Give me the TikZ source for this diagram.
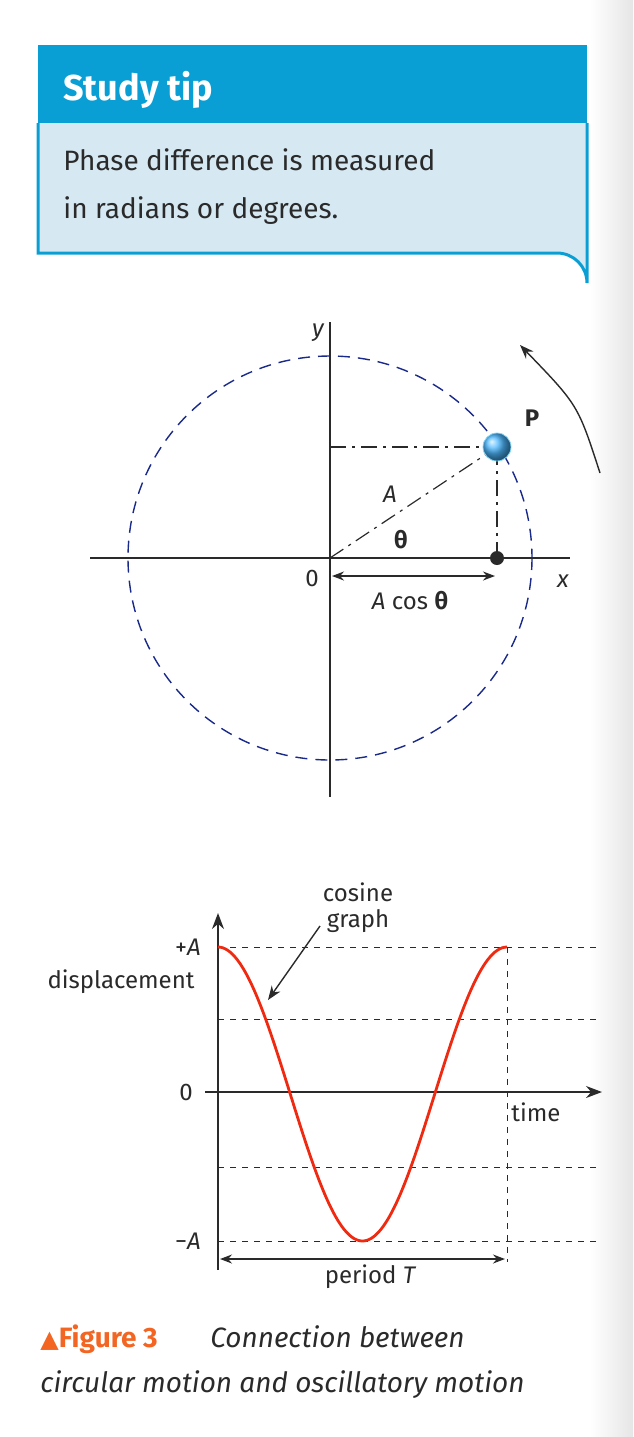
\documentclass[tikz,border=0pt]{standalone}
\usepackage{fontspec}
\setmainfont{Fira Sans}
\newfontfamily\dejavu{DejaVu Sans}
\usetikzlibrary{arrows.meta}
\definecolor{hdr}{HTML}{0A9FD4}
\definecolor{bodyc}{HTML}{D6E8F2}
\definecolor{circ}{HTML}{1A2A8A}
\definecolor{curv}{HTML}{F02A10}
\definecolor{orng}{HTML}{F26522}
\definecolor{txt}{HTML}{2A2A2A}
\tikzset{ax/.style={draw=txt,line width=0.8pt},
 dd/.style={draw=txt,line width=0.6pt,dash pattern=on 8pt off 3pt on 1.5pt off 3pt},
 hd/.style={draw=txt,line width=0.5pt,dash pattern=on 3pt off 3pt},
 lbl/.style={text=txt,font=\fontsize{12}{14}\selectfont,inner sep=0pt}}
\begin{document}
\begin{tikzpicture}[x=0.5pt,y=-0.5pt]
\useasboundingbox (0,0) rectangle (633,1437);
\shade[left color=white,right color=black!10] (590,0) rectangle (633,1437);
% study tip box
\fill[hdr] (38,45) rectangle (587,123);
\draw[hdr,fill=bodyc,line width=1.5pt] (38,123) -- (38,253) -- (557,253) arc[start angle=90,end angle=0,x radius=30,y radius=-30] -- (587,123);
\node[anchor=base west,text=white,font=\fontsize{18}{20}\selectfont\bfseries,inner sep=0pt] (st) at (63,100) {Study tip};
\node[anchor=base west,text=txt,font=\fontsize{14}{24}\selectfont,inner sep=0pt,align=left] (bt) at (63,170) {Phase difference is measured};
\node[anchor=base west,text=txt,font=\fontsize{14}{24}\selectfont,inner sep=0pt] (bt2) at (63,218) {in radians or degrees.};
% circle
\coordinate (O) at (330,558);
\draw[circ,line width=0.7pt,dash pattern=on 6pt off 4pt] (O) circle[radius=202];
\draw[ax] (90,558) -- (570,558);
\draw[ax] (330,322) -- (330,797);
\coordinate (P) at (497,447);
\coordinate (D) at (497,558);
\draw[dd] (O) -- (P);
\draw[dd] (330,447) -- (P);
\draw[dd] (D) -- (P);
\fill[txt] (D) circle[radius=7];
\shade[ball color=cyan!60!blue!70] (P) circle[radius=14];
\draw[cyan!50,line width=0.4pt] (P) circle[radius=14];
\coordinate (r0) at (600,473);
\coordinate (r1) at (520,345);
\draw[-{Stealth[length=7pt]},txt,line width=0.7pt] (r0) .. controls (578,405) .. (r1);
\draw[{Stealth[length=6pt]}-{Stealth[length=6pt]},txt,line width=0.7pt] (332,576) -- (495,576);
\node[lbl,font=\fontsize{12}{14}\selectfont\itshape] (ly) at (318,333) {y};
\node[lbl,font=\fontsize{12}{14}\selectfont\itshape] (lx) at (563,581) {x};
\node[lbl] (lo) at (312,578) {0};
\node[lbl,font=\fontsize{12}{14}\selectfont\itshape] (la) at (390,494) {A};
\node[lbl,font=\fontsize{12}{14}\selectfont\bfseries] (lt) at (401,540) {θ};
\node[lbl] (lac) at (410,601) {\itshape A\upshape\ cos \bfseries θ};
\node[lbl,font=\fontsize{12}{14}\selectfont\bfseries] (lp) at (532,418) {P};
% graph
\draw[hd] (218,947) -- (597,947);
\draw[hd] (218,1019) -- (597,1019);
\draw[hd] (218,1167) -- (597,1167);
\draw[hd] (218,1241) -- (597,1241);
\draw[hd] (507,947) -- (507,1262);
\draw[ax,-{Stealth[length=8pt]}] (218,1270) -- (218,913);
\draw[ax,-{Stealth[length=8pt]}] (205,1092) -- (602,1092);
\draw[curv,line width=1.4pt,domain=0:289,samples=120,smooth] plot ({218+\x},{1094-147*cos(\x/289*360)});
\draw[{Stealth[length=6pt]}-{Stealth[length=6pt]},txt,line width=0.7pt] (220,1259) -- (505,1259);
\draw[-{Stealth[length=7pt]},txt,line width=0.7pt] (320,926) -- (268,1000);
\node[lbl] (pa) at (188,947) {+\itshape A};
\node[lbl] (dis) at (121,982) {displacement};
\node[lbl] (z) at (186,1092) {0};
\node[lbl] (ma) at (188,1241) {−\itshape A};
\node[lbl] (tm) at (536,1112) {time};
\node[lbl] (pt) at (370,1277) {period \itshape T};
\node[lbl,align=center] (cg) at (358,908) {cosine\\[-1pt]graph};
% caption
\node[anchor=base west,inner sep=0pt,text=orng,font=\fontsize{14}{16}\selectfont\bfseries] (fg) at (40,1347) {{\dejavu\fontsize{12}{14}\selectfont▲}Figure 3};
\node[anchor=base west,inner sep=0pt,text=txt,font=\fontsize{14}{16}\selectfont\itshape] (c1) at (210,1347) {Connection between};
\node[anchor=base west,inner sep=0pt,text=txt,font=\fontsize{14}{16}\selectfont\itshape] (c2) at (40,1392) {circular motion and oscillatory motion};
\end{tikzpicture}
\end{document}
